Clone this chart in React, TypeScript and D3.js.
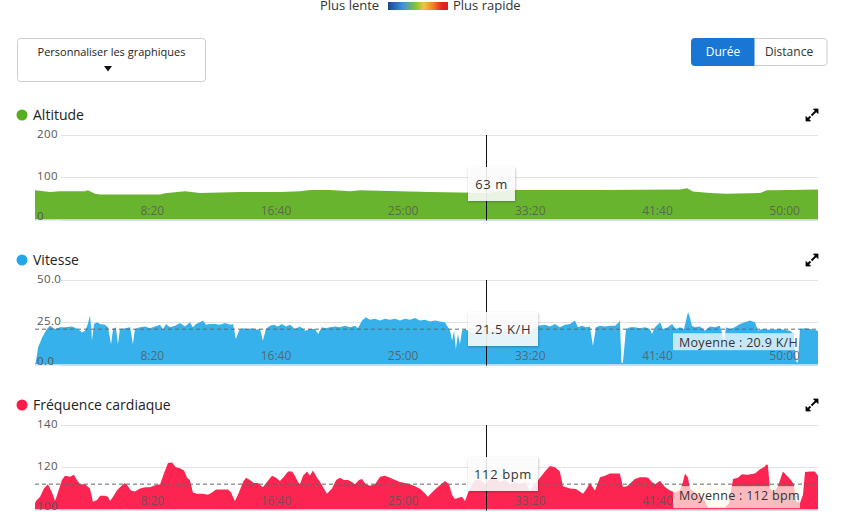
import React from 'react';
import * as d3 from 'd3';

const FONT = '"Open Sans", "Noto Sans", sans-serif';

// [time in seconds, value]
const altitudeData: [number, number][] = [
  [0, 69], [59, 65], [98, 67], [197, 67], [208, 69], [236, 61], [256, 59], [374, 59], [492, 59], [511, 62],
  [590, 67], [649, 63], [806, 65], [963, 65], [1042, 67], [1081, 70], [1160, 70], [1239, 67], [1278, 69],
  [1435, 67], [1553, 65], [1671, 64], [1773, 63], [1828, 67], [1887, 70], [2064, 70], [2222, 70], [2379, 70.5],
  [2536, 71], [2564, 74], [2587, 66], [2654, 63], [2721, 61], [2851, 63], [2878, 69], [2969, 70], [3079, 71],
];

const speedData: [number, number][] = [
  [0, 0], [4, 2], [12, 10], [28, 16], [47, 21], [59, 23], [79, 21], [98, 22], [118, 22], [145, 22.5], [169, 21],
  [185, 19], [197, 20], [208, 24], [216, 29], [222, 20], [224, 14], [232, 24], [244, 25], [256, 24], [275, 23.5],
  [287, 22], [299, 12], [307, 21], [318, 22], [326, 12], [334, 21], [354, 21.5], [374, 22], [385, 12], [393, 21],
  [413, 22], [433, 22.5], [452, 21.5], [472, 22.5], [492, 23.5], [503, 20.5], [515, 24], [531, 22], [551, 23],
  [570, 24.5], [590, 22.5], [609, 25], [621, 22], [633, 24], [649, 25], [661, 26], [672, 23.5], [688, 24],
  [708, 24], [727, 23.5], [747, 24.5], [767, 23.5], [779, 24], [790, 15], [802, 20], [814, 21.5], [838, 21],
  [853, 21.5], [869, 20.5], [885, 21], [896, 14], [908, 21], [924, 23], [940, 23.5], [955, 22.5], [971, 24],
  [987, 22.5], [1003, 23.5], [1022, 21], [1042, 22.5], [1062, 20], [1081, 21], [1101, 21], [1113, 18],
  [1128, 22], [1144, 21.5], [1160, 22], [1180, 22.5], [1199, 22], [1219, 23], [1239, 22], [1258, 23],
  [1270, 21.5], [1286, 26], [1301, 28], [1317, 26.5], [1337, 27], [1357, 26], [1376, 27], [1396, 26.5],
  [1416, 27], [1435, 26], [1455, 27], [1475, 26.5], [1494, 27.5], [1514, 26], [1533, 26.5], [1553, 25.5],
  [1573, 26], [1592, 25.5], [1612, 25], [1624, 22], [1632, 20], [1640, 14], [1648, 20], [1655, 9], [1663, 18],
  [1671, 12], [1679, 20], [1691, 21], [1703, 20], [1730, 18], [1750, 19], [1773, 21.5], [1789, 19], [1809, 20],
  [1828, 18], [1848, 20], [1868, 19], [1887, 20], [1907, 18], [1927, 17], [1946, 19], [1966, 21], [1978, 23],
  [2005, 23.5], [2025, 22.5], [2045, 24], [2064, 22], [2084, 23.5], [2104, 24], [2123, 26], [2135, 22],
  [2151, 23], [2167, 22], [2182, 22.5], [2194, 11], [2206, 22], [2222, 23], [2241, 22.5], [2261, 23],
  [2281, 23], [2296, 25], [2300, 26], [2306, 1], [2312, 1], [2324, 21], [2340, 22], [2359, 22], [2379, 21.5],
  [2399, 22], [2418, 21], [2426, 18], [2438, 22], [2458, 25], [2469, 21], [2489, 22], [2505, 24], [2520, 21],
  [2536, 22], [2552, 21], [2560, 26], [2568, 31], [2575, 28], [2583, 23], [2595, 22], [2615, 22.5], [2634, 20],
  [2654, 22.5], [2674, 22], [2693, 23], [2701, 19], [2709, 12], [2717, 22], [2733, 21], [2752, 22], [2772, 24],
  [2792, 25], [2811, 26], [2831, 25], [2843, 20], [2859, 21], [2890, 20.5], [2929, 21], [2969, 20], [2984, 18],
  [2992, 2], [3000, 1], [3008, 21], [3028, 21.5], [3047, 21], [3079, 20],
];

const heartData: [number, number][] = [
  [0, 103], [4, 104], [20, 106], [35, 110], [51, 112], [67, 108], [79, 104], [90, 108], [106, 114], [118, 116],
  [138, 115.5], [153, 116.5], [165, 114], [177, 112], [197, 112], [216, 110], [228, 103.7], [244, 104.5],
  [256, 106.5], [275, 106.5], [287, 106], [295, 104], [307, 106], [322, 109], [338, 111], [354, 112.5],
  [366, 111], [377, 109], [393, 108.5], [413, 110], [433, 110.5], [452, 110.5], [472, 111.5], [492, 112],
  [507, 117], [523, 122], [539, 122.3], [554, 120], [570, 119.5], [586, 118.5], [598, 115], [609, 114],
  [621, 108], [637, 107.5], [661, 107.5], [680, 107], [696, 108], [712, 109.5], [735, 109.5], [759, 109.5],
  [771, 108], [786, 104], [802, 108], [818, 113], [830, 115], [845, 114], [861, 112.5], [877, 112.5],
  [896, 110.5], [912, 113], [932, 116], [948, 115], [963, 113.5], [979, 115.5], [995, 118], [1011, 118],
  [1022, 116], [1034, 113], [1042, 112], [1054, 116], [1070, 118], [1081, 116], [1093, 118.5], [1109, 115],
  [1121, 113], [1136, 110], [1148, 107.5], [1168, 110], [1184, 114], [1199, 115], [1215, 114], [1231, 114],
  [1246, 113], [1258, 112], [1274, 114], [1286, 114.4], [1301, 112], [1317, 111.3], [1337, 112], [1357, 115.5],
  [1376, 116], [1396, 115], [1416, 114], [1435, 113], [1455, 112.5], [1475, 112], [1494, 111], [1514, 109.8],
  [1530, 108], [1545, 106], [1561, 108], [1577, 110], [1592, 111.5], [1612, 113.5], [1628, 112], [1640, 107],
  [1651, 105], [1663, 105.5], [1679, 106], [1691, 104], [1703, 108], [1730, 114], [1750, 114], [1773, 112],
  [1789, 114.5], [1809, 115], [1828, 113], [1848, 114], [1868, 112], [1887, 113], [1907, 112], [1927, 113],
  [1946, 109], [1966, 112], [1986, 115], [2005, 118], [2025, 120.6], [2045, 120], [2064, 118], [2076, 111],
  [2104, 110], [2127, 109.7], [2155, 107.4], [2170, 110], [2182, 112.5], [2202, 109], [2222, 115.3],
  [2241, 116], [2261, 117], [2281, 117], [2300, 117], [2312, 110.7], [2328, 111], [2359, 114.4], [2379, 115.3],
  [2399, 115.3], [2411, 115], [2426, 113], [2438, 112], [2458, 113.6], [2477, 110.7], [2497, 109], [2516, 108],
  [2536, 109], [2548, 113], [2556, 117], [2568, 115], [2575, 110], [2595, 108], [2615, 106], [2634, 104],
  [2646, 101], [2674, 101], [2713, 101], [2729, 103], [2745, 114.4], [2764, 115], [2780, 116.7], [2803, 116.5],
  [2831, 117], [2851, 119], [2866, 120], [2878, 121.4], [2882, 121], [2890, 110], [2906, 108], [2921, 111],
  [2929, 113.6], [2941, 118], [2957, 116], [2969, 114.4], [2984, 112], [2992, 104], [3008, 103], [3020, 107],
  [3028, 117.7], [3047, 118], [3067, 118], [3079, 116],
];

const timeTicks = [500, 1000, 1500, 2000, 2500, 3000];
const altitudeTicks = [0, 100, 200];
const speedTicks = [0, 25, 50];
const heartTicks = [100, 120, 140];
const duration = 3079;
const cursorTime = 1773;
const speedMean = 20.9;
const heartMean = 112;

const x = d3.scaleLinear().domain([0, duration]).range([35, 818]);
const fmtTime = (t: number) => `${Math.floor(t / 60)}:${String(t % 60).padStart(2, '0')}`;

type PanelProps = {
  top: number;
  title: string;
  dot: string;
  fill: string;
  data: [number, number][];
  ticks: number[];
  fmt: (v: number) => string;
  tip: string;
  tipW: number;
  mean?: number;
  meanLabel?: string;
  meanW?: number;
  meanDy?: number;
  meanH?: number;
  meanFill?: string;
};

function Panel(p: PanelProps) {
  const top = p.top;
  const bottom = top + 84.5;
  const y = d3.scaleLinear().domain([p.ticks[0], p.ticks[p.ticks.length - 1]]).range([bottom, top]);
  const area = d3
    .area<[number, number]>()
    .x((d) => x(d[0]))
    .y0(bottom)
    .y1((d) => y(d[1]))
    .curve(d3.curveLinear);
  const titleY = top - 20;
  const cx = x(cursorTime);
  const tipY = top + 32;
  const icx = 812;
  const icy = titleY;
  return (
    <g>
      <circle cx={22} cy={titleY} r={5.5} fill={p.dot} />
      <text x={33} y={titleY + 5} fontSize={14} fill="#222" fontFamily={FONT}>{p.title}</text>
      {/* expand icon */}
      <g stroke="#000" strokeWidth={1.8} fill="#000">
        <line x1={icx - 0.5} y1={icy + 0.5} x2={icx + 4} y2={icy - 4} />
        <polygon points={`${icx + 6},${icy - 6} ${icx + 6},${icy - 1.5} ${icx + 1.5},${icy - 6}`} strokeWidth={0.8} />
        <line x1={icx - 1.5} y1={icy + 1.5} x2={icx - 4} y2={icy + 4} />
        <polygon points={`${icx - 6},${icy + 6} ${icx - 6},${icy + 1.5} ${icx - 1.5},${icy + 6}`} strokeWidth={0.8} />
      </g>
      {p.ticks.map((t) => (
        <line key={'g' + t} x1={61} x2={818} y1={Math.round(y(t)) + 0.5} y2={Math.round(y(t)) + 0.5} stroke="#e2e2e2" />
      ))}
      <path d={area(p.data) || ''} fill={p.fill} />
      <line x1={35} x2={818} y1={bottom + 0.5} y2={bottom + 0.5} stroke="#c9dcf0" />
      {timeTicks.map((t) => (
        <text key={'x' + t} x={x(t) + 2} y={bottom - 4.5} fontSize={12} textAnchor="end" fill="#555" fillOpacity={0.8} fontFamily={FONT}>
          {fmtTime(t)}
        </text>
      ))}
      {p.ticks.map((t, i) => (
        <text key={'y' + t} x={37} y={i === 0 ? bottom + 0.5 : y(t) + 3} fontSize={11.5} fill="#555" fontFamily={FONT} letterSpacing={0.4}>
          {p.fmt(t)}
        </text>
      ))}
      {p.mean !== undefined && (
        <line x1={35} x2={818} y1={y(p.mean)} y2={y(p.mean)} stroke="#666" strokeDasharray="4,3" />
      )}
      <line x1={Math.round(cx) + 0.5} x2={Math.round(cx) + 0.5} y1={top} y2={bottom + 1} stroke="#111" />
      <rect x={468} y={tipY} width={p.tipW} height={34} fill="#fff" fillOpacity={0.86} filter="url(#shadow)" />
      <text x={468 + p.tipW / 2} y={tipY + 21.5} fontSize={13} textAnchor="middle" fill="#333" fontFamily={FONT} letterSpacing={0.6}>
        {p.tip}
      </text>
      {p.mean !== undefined && (
        <g>
          <rect x={673} y={y(p.mean) + (p.meanDy || 3)} width={p.meanW} height={p.meanH || 18} fill={p.meanFill} />
          <text x={679} y={y(p.mean) + (p.meanDy || 3) + 13.5} fontSize={12.5} fill="#333" fontFamily={FONT} letterSpacing={0.3}>
            {p.meanLabel}
          </text>
        </g>
      )}
    </g>
  );
}

export default function App() {
  return (
    <svg width={847} height={520} style={{ position: 'absolute', left: 0, top: 0, background: '#fff' }} fontFamily={FONT}>
      <defs>
        <linearGradient id="speedGrad" x1="0" x2="1" y1="0" y2="0">
          <stop offset="0" stopColor="#1d4592" />
          <stop offset="0.25" stopColor="#3a92e4" />
          <stop offset="0.45" stopColor="#7cc531" />
          <stop offset="0.6" stopColor="#f2c34a" />
          <stop offset="0.75" stopColor="#f0841f" />
          <stop offset="0.9" stopColor="#e0261f" />
          <stop offset="1" stopColor="#d8201c" />
        </linearGradient>
        <filter id="shadow" x="-20%" y="-20%" width="140%" height="150%">
          <feDropShadow dx="0.5" dy="1" stdDeviation="1.3" floodColor="#000" floodOpacity="0.3" />
        </filter>
      </defs>
      <rect width={847} height={520} fill="#fff" />
      {/* speed colour legend */}
      <text x={320} y={9.5} fontSize={13} fill="#333">Plus lente</text>
      <rect x={388} y={2} width={60} height={8} fill="url(#speedGrad)" />
      <text x={453} y={9.5} fontSize={13} fill="#333">Plus rapide</text>

      {/* customise button */}
      <rect x={17.5} y={38.5} width={188} height={43} rx={3} fill="#fff" stroke="#ccc" />
      <text x={111.5} y={56} fontSize={11} textAnchor="middle" fill="#222">Personnaliser les graphiques</text>
      <polygon points="104,66 112,66 108,71.5" fill="#111" />

      {/* segmented toggle */}
      <rect x={691.5} y={38.5} width={135.5} height={27} rx={3} fill="#fff" stroke="#ccc" />
      <path d="M694.5,38.5 H754 V65.5 H694.5 Q691.5,65.5 691.5,62.5 V41.5 Q691.5,38.5 694.5,38.5 Z" fill="#1976d2" stroke="#1976d2" />
      <text x={723} y={56} fontSize={12} textAnchor="middle" fill="#fff">Durée</text>
      <text x={789} y={56} fontSize={12} textAnchor="middle" fill="#333">Distance</text>

      <Panel
        top={135}
        title="Altitude"
        dot="#56ad1e"
        fill="#69b42e"
        data={altitudeData}
        ticks={altitudeTicks}
        fmt={(v) => String(v)}
        tip="63 m"
        tipW={47}
      />
      <Panel
        top={280}
        title="Vitesse"
        dot="#22a7e8"
        fill="#36b1ec"
        data={speedData}
        ticks={speedTicks}
        fmt={(v) => v.toFixed(1)}
        tip="21.5 K/H"
        tipW={70}
        mean={speedMean}
        meanLabel="Moyenne : 20.9 K/H"
        meanW={124}
        meanDy={4}
        meanH={17}
        meanFill="rgba(255,255,255,0.7)"
      />
      <Panel
        top={425}
        title="Fréquence cardiaque"
        dot="#ff1a48"
        fill="#fc2552"
        data={heartData}
        ticks={heartTicks}
        fmt={(v) => String(v)}
        tip="112 bpm"
        tipW={70}
        mean={heartMean}
        meanLabel="Moyenne : 112 bpm"
        meanW={127}
        meanDy={2}
        meanH={22}
        meanFill="rgba(255,251,238,0.7)"
      />
    </svg>
  );
}
